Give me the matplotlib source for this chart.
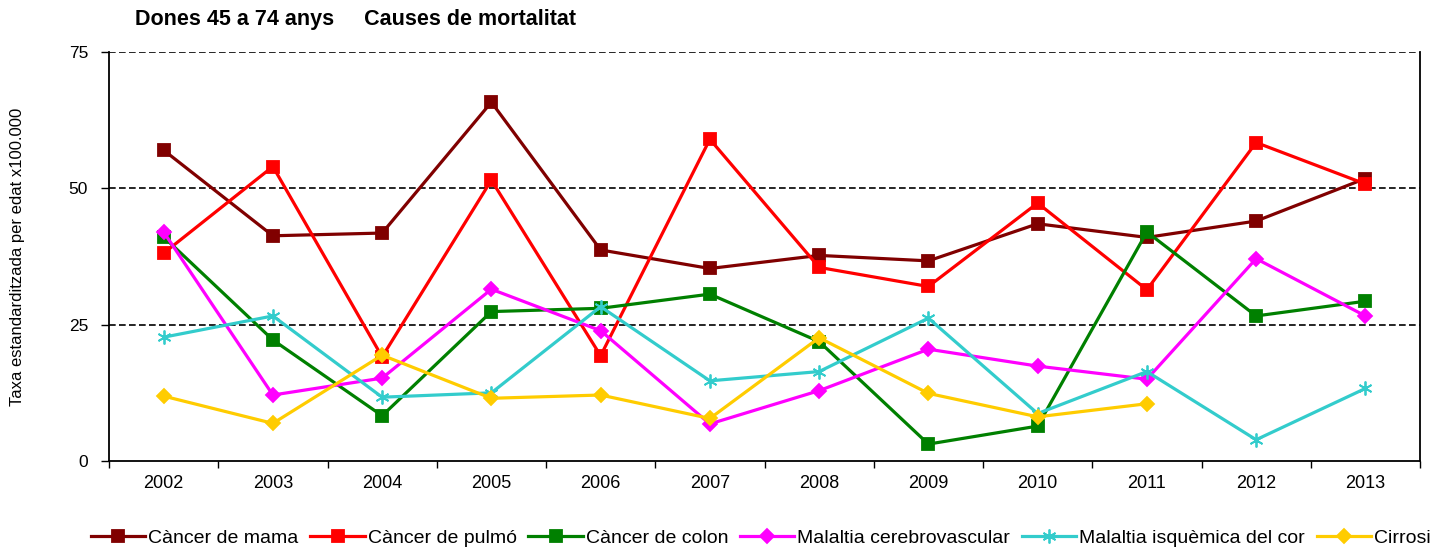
import matplotlib
matplotlib.use("Agg")
import matplotlib.pyplot as plt
import numpy as np

plt.rcParams['font.family'] = ['Liberation Sans', 'DejaVu Sans']

anys = ['2002', '2003', '2004', '2005', '2006', '2007',
        '2008', '2009', '2010', '2011', '2012', '2013']

cancer_mama = [57.0, 41.3, 41.8, 65.8, 38.7, 35.3, 37.7, 36.7, 43.5, 41.0, 44.0, 51.8]
cancer_pulmo = [38.1, 54.0, 19.1, 51.5, 19.3, 59.0, 35.5, 32.0, 47.3, 31.4, 58.4, 50.8]
cancer_colon = [41.1, 22.2, 8.3, 27.4, 28.0, 30.6, 21.9, 3.1, 6.4, 42.0, 26.6, 29.3]
cerebrovascular = [42.0, 12.1, 15.2, 31.5, 23.9, 6.8, 12.9, 20.5, 17.4, 15.0, 37.1, 26.6]
isquemica = [22.7, 26.6, 11.7, 12.5, 28.3, 14.7, 16.4, 26.2, 8.7, 16.4, 3.9, 13.3]
cirrosi = [11.9, 6.9, 19.4, 11.5, 12.1, 7.8, 22.6, 12.4, 8.1, 10.5, None, None]

series = [
    ('Càncer de mama', cancer_mama, '#800000', 's'),
    ('Càncer de pulmó', cancer_pulmo, '#FF0000', 's'),
    ('Càncer de colon', cancer_colon, '#008000', 's'),
    ('Malaltia cerebrovascular', cerebrovascular, '#FF00FF', 'D'),
    ('Malaltia isquèmica del cor', isquemica, '#33CCCC', (6, 2, 0)),
    ('Cirrosi', cirrosi, '#FFCC00', 'D'),
]

fig = plt.figure(figsize=(14.55, 5.5), dpi=100)
ax = fig.add_axes([109 / 1455, 89 / 550, 1311 / 1455, 409 / 550])

x = np.arange(len(anys))

# línies de referència discontínues
for v in (25, 50, 75):
    ax.axhline(v, color='black', lw=1.2, ls=(0, (4, 2)), zorder=1)

for nom, vals, color, marc in series:
    y = np.array([np.nan if v is None else v for v in vals], dtype=float)
    if marc == 'D':
        ms = 7
    elif marc == 's':
        ms = 8
    else:
        ms = 10
    ax.plot(x, y, color=color, lw=2.3, marker=marc, markersize=ms,
            markeredgecolor=color, markeredgewidth=1.3,
            label=nom, zorder=3, clip_on=False)

ax.set_xlim(-0.5, len(anys) - 0.5)
ax.set_ylim(0, 75)

ax.set_xticks(np.arange(-0.5, len(anys), 1.0))
ax.set_xticklabels([])
ax.set_xticks(x, minor=True)
ax.set_xticklabels(anys, minor=True, fontsize=13)
ax.tick_params(axis='x', which='major', length=5, width=1, direction='out')
ax.tick_params(axis='x', which='minor', length=0, pad=10)

ax.set_yticks([0, 25, 50, 75])
ax.set_yticklabels(['0', '25', '50', '75'], fontsize=12.5)
ax.tick_params(axis='y', length=6, width=1, direction='out', pad=9)

ax.spines['top'].set_visible(False)
for s in ('left', 'bottom', 'right'):
    ax.spines[s].set_linewidth(1.3)

ax.set_ylabel('Taxa estandarditzada per edat x100.000', fontsize=12)
ax.yaxis.set_label_coords(-0.064, 0.5)

fig.text(135 / 1455, 1 - 20 / 550, 'Dones 45 a 74 anys     Causes de mortalitat',
         fontsize=15.5, fontweight='bold', va='center', ha='left')

fig.legend(loc='center left', bbox_to_anchor=(91 / 1455, 1 - 538 / 550),
           ncol=6, frameon=False, fontsize=14, handlelength=2.8,
           handletextpad=0.15, columnspacing=0.6, borderaxespad=0,
           borderpad=0)

fig.savefig('out.png', dpi=100, facecolor='white')
